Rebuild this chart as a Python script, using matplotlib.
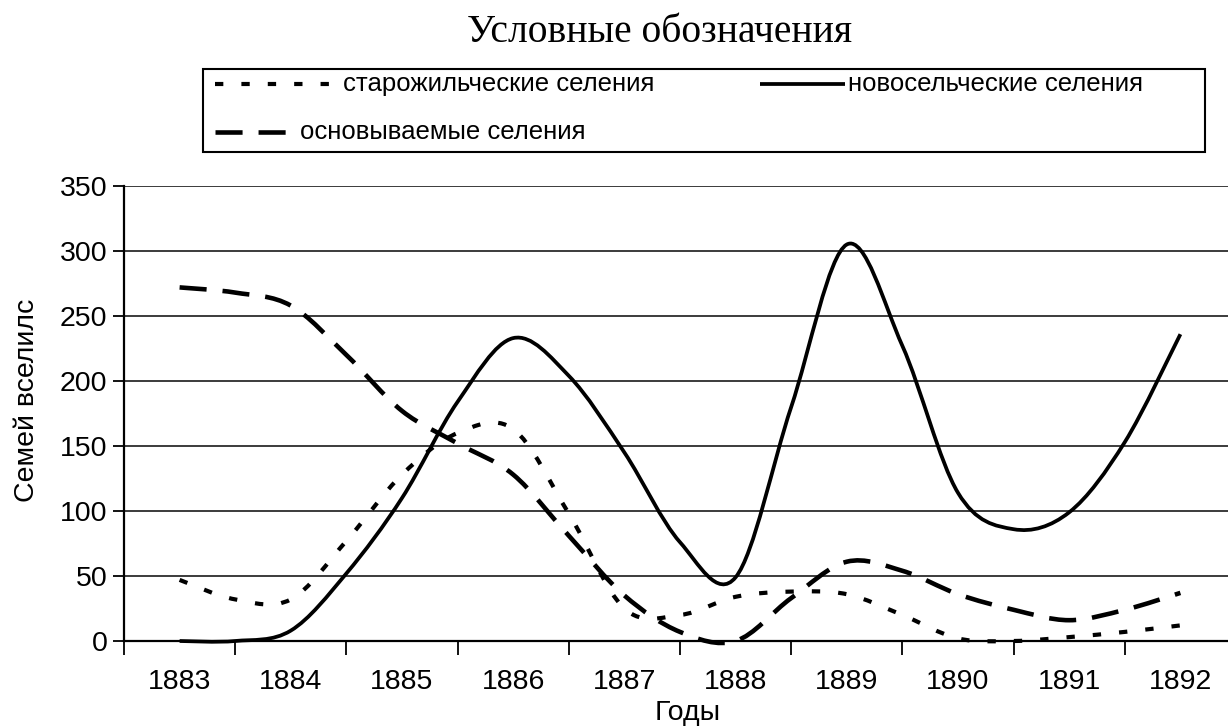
import matplotlib
matplotlib.use("Agg")
import matplotlib.pyplot as plt
from matplotlib.path import Path
from matplotlib.patches import PathPatch, Rectangle
from matplotlib.lines import Line2D

plt.rcParams['lines.scale_dashes'] = False
plt.rcParams['font.family'] = ['Liberation Sans', 'DejaVu Sans']

# ---- data ----
year_labels = ['1883', '1884', '1885', '1886', '1887', '1888', '1889', '1890', '1891', '1892']
label_pos = [1883, 1884, 1885, 1886, 1887, 1888, 1889, 1890, 1891, 1892]
periods = [1883.0, 1883.5, 1884.0, 1884.5, 1885.0, 1885.5, 1886.0, 1886.5, 1887.0, 1887.5,
           1888.0, 1888.5, 1889.0, 1889.5, 1890.0, 1890.5, 1891.0, 1891.5, 1892.0]
staro = [47, 32, 32, 77, 128, 160, 163, 98, 25, 20, 34, 38, 36, 20, 2, 0, 3, 7, 12]
novo = [0, 0, 8, 52, 110, 184, 233, 204, 145, 76, 49, 180, 305, 227, 114, 86, 99, 153, 236]
osnov = [272, 268, 258, 220, 177, 152, 128, 81, 35, 7, 0, 33, 61, 54, 36, 24, 16, 24, 37]
names = ['старожильческие селения', 'новосельческие селения', 'основываемые селения']
yticks = [0, 50, 100, 150, 200, 250, 300, 350]

W, H = 1228, 728
fig = plt.figure(figsize=(W / 100, H / 100), dpi=100)

def fx(px):
    return px / W

def fy(py):
    return 1 - py / H

ax = fig.add_axes([fx(124), fy(641), 1112 / W, 455 / H])
ax.set_xlim(1882.5, 1892.5)
ax.set_ylim(0, 350)

DOT = (0, (6, 13))
DASH = (0, (19.5, 11.5))


def smooth_path(xs, ys):
    # Excel-like smoothed line: cubic Bezier through every data point
    n = len(xs)
    verts = [(xs[0], ys[0])]
    codes = [Path.MOVETO]
    for i in range(n - 1):
        i0 = max(i - 1, 0)
        i3 = min(i + 2, n - 1)
        c1 = (xs[i] + (xs[i + 1] - xs[i0]) / 6, ys[i] + (ys[i + 1] - ys[i0]) / 6)
        c2 = (xs[i + 1] - (xs[i3] - xs[i]) / 6, ys[i + 1] - (ys[i3] - ys[i]) / 6)
        verts += [c1, c2, (xs[i + 1], ys[i + 1])]
        codes += [Path.CURVE4] * 3
    return Path(verts, codes)


styles = [(staro, DOT, 3.0), (novo, '-', 2.7), (osnov, DASH, 3.3)]
for vals, ls, lw in styles:
    patch = PathPatch(smooth_path(periods, vals), facecolor='none', edgecolor='black',
                      linewidth=lw, linestyle=ls, capstyle='butt', joinstyle='round',
                      clip_on=False, zorder=3)
    ax.add_patch(patch)

# grid and axes
ax.set_yticks(yticks)
ax.yaxis.grid(True, color='#1a1a1a', linewidth=1.2)
ax.set_axisbelow(True)
ax.set_xticks([p - 0.5 for p in label_pos] + [1892.5])
ax.set_xticklabels([])
ax.set_xticks(label_pos, minor=True)
ax.set_xticklabels(year_labels, minor=True)
ax.tick_params(axis='x', which='major', length=10, width=1.3, color='black', direction='out')
ax.tick_params(axis='x', which='minor', length=0, pad=20, labelsize=20.5)
ax.tick_params(axis='y', length=8, width=1.3, direction='out', labelsize=20.5, pad=4)
for s in ['top', 'right']:
    ax.spines[s].set_visible(False)
for s in ['left', 'bottom']:
    ax.spines[s].set_linewidth(1.6)

fig.text(fx(27), fy(400), 'Семей вселилс', rotation=90, ha='center', va='center', fontsize=20.5)
fig.text(fx(688), fy(713), 'Годы', ha='center', va='center', fontsize=20.5)

# title and legend box
fig.text(fx(660), fy(33), 'Условные обозначения', ha='center', va='center',
         fontsize=28.5, family=['Liberation Serif', 'DejaVu Serif'])
fig.add_artist(Rectangle((fx(203), fy(152)), fx(1205) - fx(203), fy(69) - fy(152),
                         transform=fig.transFigure, facecolor='white', edgecolor='black',
                         linewidth=1.5))
leg = [((215, 340), 84, DOT, 3.0, 343, names[0]),
       ((760, 845), 84, '-', 2.7, 848, names[1]),
       ((215, 292), 132, DASH, 3.3, 300, names[2])]
for (x0, x1), yy, ls, lw, tx, name in leg:
    fig.add_artist(Line2D([fx(x0), fx(x1)], [fy(yy), fy(yy)], transform=fig.transFigure,
                          color='black', linestyle=ls, linewidth=lw, solid_capstyle='butt',
                          dash_capstyle='butt'))
    fig.text(fx(tx), fy(yy), name, ha='left', va='center', fontsize=18.5)

fig.savefig('out.png', dpi=100)
